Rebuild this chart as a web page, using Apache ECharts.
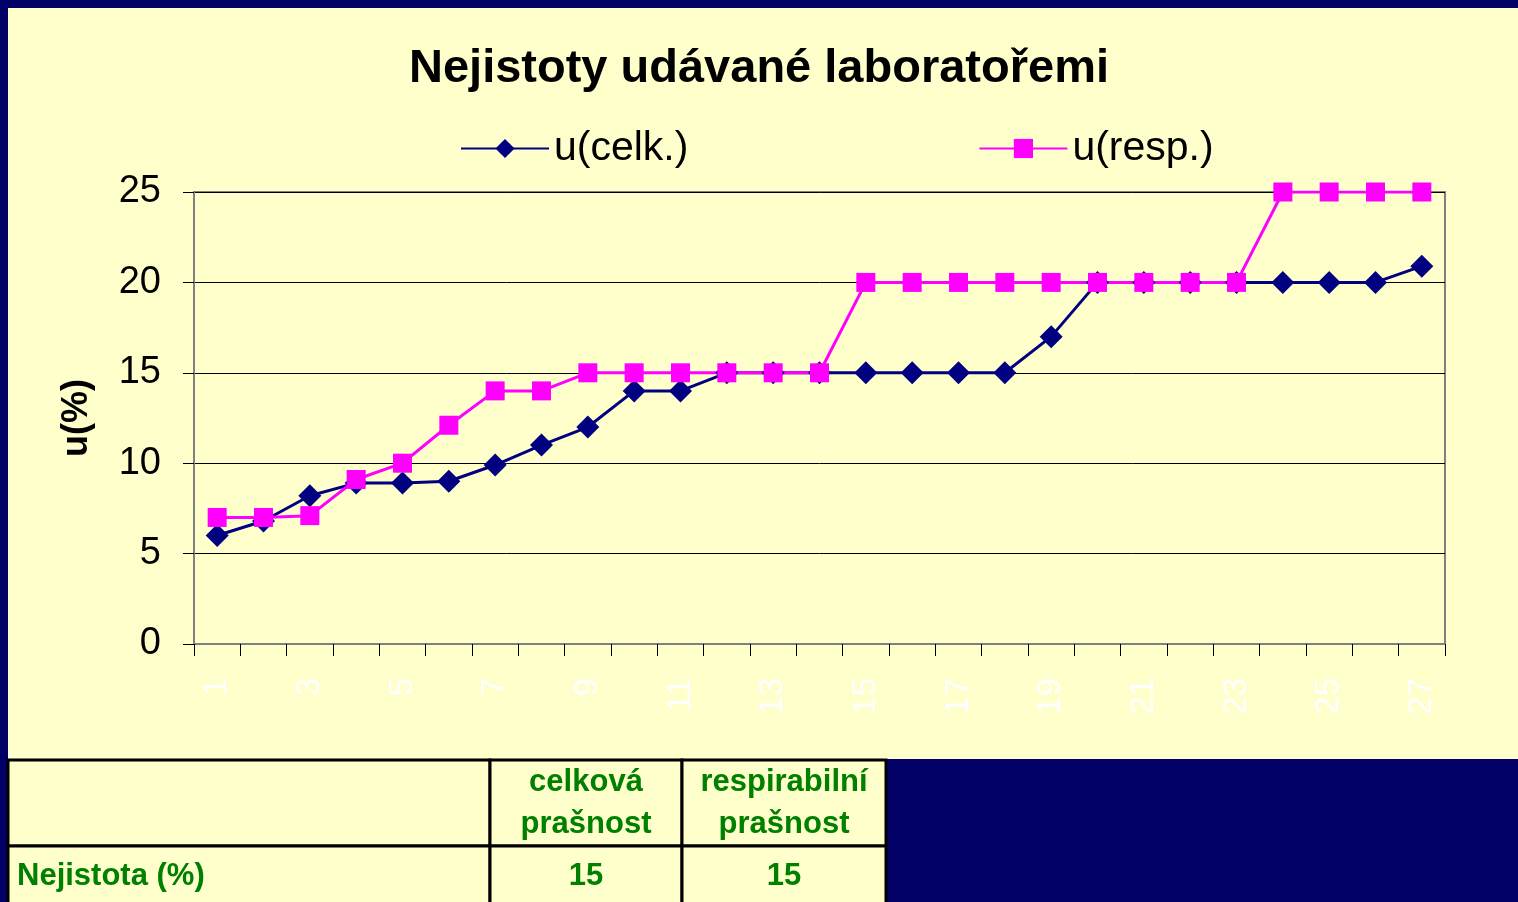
<!DOCTYPE html>
<html>
<head>
<meta charset="utf-8">
<script src="https://cdn.jsdelivr.net/npm/echarts@6/dist/echarts.min.js"></script>
<style>
  html, body { margin: 0; padding: 0; background: #000066; }
  #panel { position: absolute; left: 8px; top: 8px; width: 1510px; height: 751px; background: #FFFFCC; }
  #container { position: absolute; left: 0; top: 0; width: 1518px; height: 902px; }
</style>
</head>
<body>
<div id="panel"></div>
<div id="container"></div>
<script>
// data
var categories = ['1', '2', '3', '4', '5', '6', '7', '8', '9', '10', '11', '12', '13', '14',
    '15', '16', '17', '18', '19', '20', '21', '22', '23', '24', '25', '26', '27'];
var uCelk = [6, 6.8, 8.2, 8.9, 8.9, 9, 9.9, 11, 12, 14, 14, 15, 15, 15,
    15, 15, 15, 15, 17, 20, 20, 20, 20, 20, 20, 20, 20.9];
var uResp = [7, 7, 7.1, 9.1, 10, 12.1, 14, 14, 15, 15, 15, 15, 15, 15,
    20, 20, 20, 20, 20, 20, 20, 20, 20, 25, 25, 25, 25];

// table under the chart
var tableHeaders = ['celková\nprašnost', 'respirabilní\nprašnost'];
var tableRowLabel = 'Nejistota (%)';
var tableValues = ['15', '15'];

var dom = document.getElementById("container");
var myChart = echarts.init(dom);

var font = 'Arial, "Liberation Sans", sans-serif';
var green = '#008000';

// table graphics
var colX = [8, 490, 682, 886];
var rowY = [760, 846, 920];
var tableEls = [];
for (var r = 0; r < 2; r++) {
    for (var c = 0; c < 3; c++) {
        tableEls.push({
            type: 'rect',
            shape: { x: colX[c], y: rowY[r], width: colX[c + 1] - colX[c], height: rowY[r + 1] - rowY[r] },
            style: { fill: '#FFFFCC', stroke: '#000', lineWidth: 3 }
        });
    }
}
for (var c = 0; c < 2; c++) {
    tableEls.push({
        type: 'text',
        x: (colX[c + 1] + colX[c + 2]) / 2,
        y: 803,
        style: {
            text: tableHeaders[c], fill: green, font: 'bold 31px ' + font,
            align: 'center', verticalAlign: 'middle', lineHeight: 42
        }
    });
    tableEls.push({
        type: 'text',
        x: (colX[c + 1] + colX[c + 2]) / 2,
        y: 876,
        style: {
            text: tableValues[c], fill: green, font: 'bold 31px ' + font,
            align: 'center', verticalAlign: 'middle'
        }
    });
}
tableEls.push({
    type: 'text',
    x: 17,
    y: 876,
    style: {
        text: tableRowLabel, fill: green, font: 'bold 31px ' + font,
        align: 'left', verticalAlign: 'middle'
    }
});

option = {
    backgroundColor: 'transparent',
    animation: false,
    textStyle: { fontFamily: font },
    title: {
        text: 'Nejistoty udávané laboratořemi',
        left: 'center',
        top: 41,
        textStyle: {
            fontSize: 47,
            fontWeight: 'bold',
            color: '#000'
        }
    },
    legend: {
        left: 455,
        top: 123,
        itemWidth: 88,
        itemHeight: 24,
        itemGap: 290,
        textStyle: { fontSize: 41, color: '#000' },
        data: ['u(celk.)', 'u(resp.)']
    },
    grid: {
        left: 194,
        right: 73,
        top: 192,
        bottom: 258,
        show: true,
        borderColor: '#808080',
        borderWidth: 2,
        backgroundColor: 'transparent'
    },
    xAxis: {
        type: 'category',
        data: categories,
        boundaryGap: true,
        axisLine: { lineStyle: { color: '#808080', width: 2 } },
        axisTick: { show: true, interval: 0, length: 12, lineStyle: { color: '#000' } },
        axisLabel: {
            interval: 1,
            rotate: 90,
            color: '#FFFFFF',
            fontSize: 33,
            margin: 34
        },
        splitLine: { show: false }
    },
    yAxis: {
        type: 'value',
        min: 0,
        max: 25,
        interval: 5,
        name: 'u(%)',
        nameLocation: 'middle',
        nameGap: 99,
        nameTextStyle: { fontSize: 36, fontWeight: 'bold', color: '#000' },
        axisLine: { show: true, lineStyle: { color: '#808080', width: 2 } },
        axisTick: { show: true, length: 11, lineStyle: { color: '#000' } },
        axisLabel: { color: '#000', fontSize: 38, margin: 33 },
        splitLine: { lineStyle: { color: '#000', width: 1 } }
    },
    series: [{
            name: 'u(celk.)',
            type: 'line',
            data: uCelk,
            symbol: 'diamond',
            symbolSize: 23,
            lineStyle: { color: '#000080', width: 3 },
            itemStyle: { color: '#000080' }
        },
        {
            name: 'u(resp.)',
            type: 'line',
            data: uResp,
            symbol: 'rect',
            symbolSize: 19,
            lineStyle: { color: '#FF00FF', width: 3 },
            itemStyle: { color: '#FF00FF' }
        }
    ],
    graphic: tableEls
};

myChart.setOption(option, true);
</script>
</body>
</html>
